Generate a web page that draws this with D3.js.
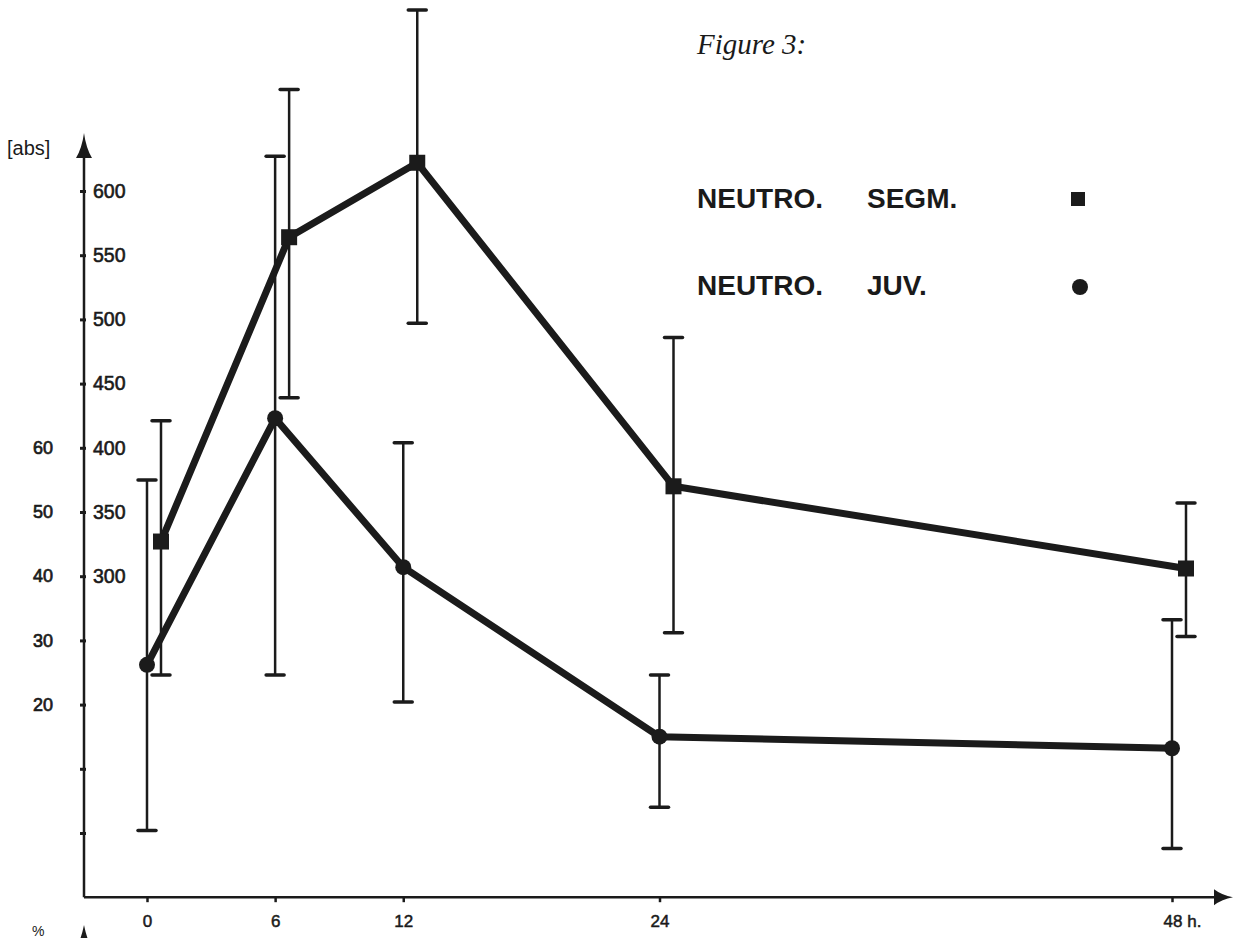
<!DOCTYPE html>
<html>
<head>
<meta charset="utf-8">
<script src="https://cdn.jsdelivr.net/npm/d3@7"></script>
<style>
  body { margin: 0; background: #fff; }
  svg { display: block; }
  text { fill: #1a1a1a; }
</style>
</head>
<body>
<svg id="chart"></svg>
<script>
// sampling times (h)
const hours = [0, 6, 12, 24, 48];
const hourLabels = ['0', '6', '12', '24', '48 h.'];

const segmMean = [327, 564, 622, 370, 306];
const segmHigh = [421, 679, 741, 486, 357];
const segmLow  = [223, 439, 497, 256, 253];

// NEUTRO. JUV. (circles)
const juvMean = [231, 423, 307, 175, 166];
const juvHigh = [375, 627, 404, 223, 266];
const juvLow  = [102, 223, 202, 120, 88];

// axis ticks
const absTicks  = [100, 150, 200, 250, 300, 350, 400, 450, 500, 550, 600];
const absLabels = [300, 350, 400, 450, 500, 550, 600];
const pctLabels = [20, 30, 40, 50, 60];

const legendItems = [
    { first: 'NEUTRO.', second: 'SEGM.', shape: 'square' },
    { first: 'NEUTRO.', second: 'JUV.', shape: 'circle' }
];

class FigureThree {

    constructor(_config) {
        this.config = {
            parentElement: _config.parentElement,
            containerWidth: _config.containerWidth || 1233,
            containerHeight: _config.containerHeight || 938,
            ink: '#1b1b1b',
            dodge: 14   // squares sit a little right of the circles
        };
        this.initVis();
    }

    initVis() {
        let vis = this;

        vis.svg = d3.select(vis.config.parentElement)
            .attr('width', vis.config.containerWidth)
            .attr('height', vis.config.containerHeight);

        vis.xScale = d3.scaleLinear().domain([0, 48]).range([147, 1172]);
        vis.yScale = d3.scaleLinear().domain([100, 600]).range([833, 191]);
        // percent labels share the tick marks: 20% <-> 200, 60% <-> 400
        vis.pctScale = d3.scaleLinear().domain([20, 60]).range([vis.yScale(200), vis.yScale(400)]);

        vis.axisX = 84;
        vis.axisY = vis.yScale(50);

        vis.chart = vis.svg.append('g');

        vis.renderAxes();
        vis.renderVis();
        vis.renderLegend();
    }

    renderAxes() {
        let vis = this;
        const ink = vis.config.ink;
        const sans = 'Liberation Sans, Arial, sans-serif';

        // vertical axis line + arrow
        vis.chart.append('line')
            .attr('x1', vis.axisX).attr('x2', vis.axisX)
            .attr('y1', vis.axisY).attr('y2', 150)
            .attr('stroke', ink).attr('stroke-width', 2.5);
        vis.chart.append('path')
            .attr('d', `M${vis.axisX},133 Q${vis.axisX + 2},148 ${vis.axisX + 8},158 L${vis.axisX - 8},158 Q${vis.axisX - 2},148 ${vis.axisX},133 Z`)
            .attr('fill', ink);

        // horizontal axis line + arrow
        vis.chart.append('line')
            .attr('x1', vis.axisX).attr('x2', 1220)
            .attr('y1', vis.axisY).attr('y2', vis.axisY)
            .attr('stroke', ink).attr('stroke-width', 2.5);
        vis.chart.append('path')
            .attr('d', `M1233,${vis.axisY} Q1222,${vis.axisY + 2} 1214,${vis.axisY + 8} L1214,${vis.axisY - 8} Q1222,${vis.axisY - 2} 1233,${vis.axisY} Z`)
            .attr('fill', ink);

        // tick marks on the y axis
        const yTicks = d3.axisLeft(vis.yScale).tickValues(absTicks).tickSize(6).tickFormat('');
        const gTicks = vis.chart.append('g')
            .attr('transform', `translate(${vis.axisX + 2},0)`)
            .call(yTicks);
        gTicks.select('.domain').remove();
        gTicks.selectAll('line').attr('stroke', ink).attr('stroke-width', 3);

        // [abs] labels to the right of the axis
        const yLabels = d3.axisRight(vis.yScale).tickValues(absLabels).tickSize(0).tickPadding(9);
        const gAbs = vis.chart.append('g')
            .attr('transform', `translate(${vis.axisX},0)`)
            .call(yLabels);
        gAbs.select('.domain').remove();
        gAbs.selectAll('text')
            .attr('font-family', sans)
            .attr('font-size', 19.5)
            .attr('fill', ink)
            .attr('stroke', ink).attr('stroke-width', 0.6);

        // percent labels at the far left
        const pctAxis = d3.axisLeft(vis.pctScale).tickValues(pctLabels).tickSize(0).tickPadding(0);
        const gPct = vis.chart.append('g')
            .attr('transform', 'translate(53,0)')
            .call(pctAxis);
        gPct.select('.domain').remove();
        gPct.selectAll('text')
            .attr('font-family', sans)
            .attr('font-size', 18)
            .attr('fill', ink)
            .attr('stroke', ink).attr('stroke-width', 0.7);

        vis.chart.append('text')
            .attr('x', 7).attr('y', 155)
            .attr('font-family', sans)
            .attr('font-size', 20)
            .text('[abs]');

        // x axis ticks and labels
        const xAxis = d3.axisBottom(vis.xScale).tickValues(hours).tickSize(5).tickPadding(13)
            .tickFormat((d, i) => hourLabels[i]);
        const gX = vis.chart.append('g')
            .attr('transform', `translate(0,${vis.axisY})`)
            .call(xAxis);
        gX.select('.domain').remove();
        gX.selectAll('line').attr('stroke', ink).attr('stroke-width', 2.5);
        gX.selectAll('text')
            .attr('font-family', sans)
            .attr('font-size', 17)
            .attr('fill', ink)
            .attr('stroke', ink).attr('stroke-width', 0.5);
        gX.selectAll('text').filter(d => d === 48).attr('dx', 10);

        // start of the next panel's % axis, cut by the page edge
        vis.chart.append('text')
            .attr('x', 32).attr('y', 936)
            .attr('font-family', sans)
            .attr('font-size', 14)
            .text('%');
        vis.chart.append('path')
            .attr('d', `M${vis.axisX},925 Q${vis.axisX + 2},935 ${vis.axisX + 6},945 L${vis.axisX - 6},945 Q${vis.axisX - 2},935 ${vis.axisX},925 Z`)
            .attr('fill', ink);

        // figure caption
        vis.svg.append('text')
            .attr('x', 697).attr('y', 54)
            .attr('font-family', 'Liberation Serif, Times New Roman, serif')
            .attr('font-style', 'italic')
            .attr('font-size', 29)
            .text('Figure 3:');
    }

    drawSeries(mean, low, high, shape, offset) {
        let vis = this;
        const ink = vis.config.ink;
        const rows = hours.map((h, i) => ({ h: h, mean: mean[i], low: low[i], high: high[i] }));
        const px = d => vis.xScale(d.h) + offset;

        const g = vis.chart.append('g').attr('class', 'series-' + shape);

        // error bars
        g.selectAll('.err')
            .data(rows)
            .enter()
            .append('line')
                .attr('class', 'err')
                .attr('x1', px).attr('x2', px)
                .attr('y1', d => vis.yScale(d.low))
                .attr('y2', d => vis.yScale(d.high))
                .attr('stroke', ink).attr('stroke-width', 2.5);

        const caps = rows.flatMap(d => [{ x: px(d), v: d.low }, { x: px(d), v: d.high }]);
        g.selectAll('.cap')
            .data(caps)
            .enter()
            .append('line')
                .attr('class', 'cap')
                .attr('x1', d => d.x - 9).attr('x2', d => d.x + 9)
                .attr('y1', d => vis.yScale(d.v))
                .attr('y2', d => vis.yScale(d.v))
                .attr('stroke', ink).attr('stroke-width', 3.5)
                .attr('stroke-linecap', 'round');

        // connecting line
        const line = d3.line().x(px).y(d => vis.yScale(d.mean));
        g.append('path')
            .datum(rows)
            .attr('d', line)
            .attr('fill', 'none')
            .attr('stroke', ink)
            .attr('stroke-width', 7)
            .attr('stroke-linejoin', 'miter');

        // markers
        if (shape === 'square') {
            g.selectAll('.mark')
                .data(rows)
                .enter()
                .append('rect')
                    .attr('class', 'mark')
                    .attr('x', d => px(d) - 8)
                    .attr('y', d => vis.yScale(d.mean) - 8)
                    .attr('width', 16).attr('height', 16)
                    .attr('fill', ink);
        } else {
            g.selectAll('.mark')
                .data(rows)
                .enter()
                .append('circle')
                    .attr('class', 'mark')
                    .attr('cx', px)
                    .attr('cy', d => vis.yScale(d.mean))
                    .attr('r', 8)
                    .attr('fill', ink);
        }
    }

    renderVis() {
        let vis = this;
        vis.drawSeries(segmMean, segmLow, segmHigh, 'square', vis.config.dodge);
        vis.drawSeries(juvMean, juvLow, juvHigh, 'circle', 0);
    }

    renderLegend() {
        let vis = this;
        const ink = vis.config.ink;
        const sans = 'Liberation Sans, Arial, sans-serif';

        const leg = vis.svg.append('g').attr('class', 'legend');
        const rows = leg.selectAll('g')
            .data(legendItems)
            .enter()
            .append('g')
                .attr('transform', (d, i) => `translate(0,${208 + i * 87})`);

        rows.append('text')
            .attr('x', 697)
            .attr('font-family', sans)
            .attr('font-weight', 'bold')
            .attr('font-size', 28)
            .text(d => d.first);
        rows.append('text')
            .attr('x', 867)
            .attr('font-family', sans)
            .attr('font-weight', 'bold')
            .attr('font-size', 28)
            .text(d => d.second);

        rows.filter(d => d.shape === 'square')
            .append('rect')
                .attr('x', 1071).attr('y', -16)
                .attr('width', 14).attr('height', 14)
                .attr('fill', ink);
        rows.filter(d => d.shape === 'circle')
            .append('circle')
                .attr('cx', 1080).attr('cy', -8)
                .attr('r', 8)
                .attr('fill', ink);
    }
}

new FigureThree({ parentElement: '#chart' });
</script>
</body>
</html>
